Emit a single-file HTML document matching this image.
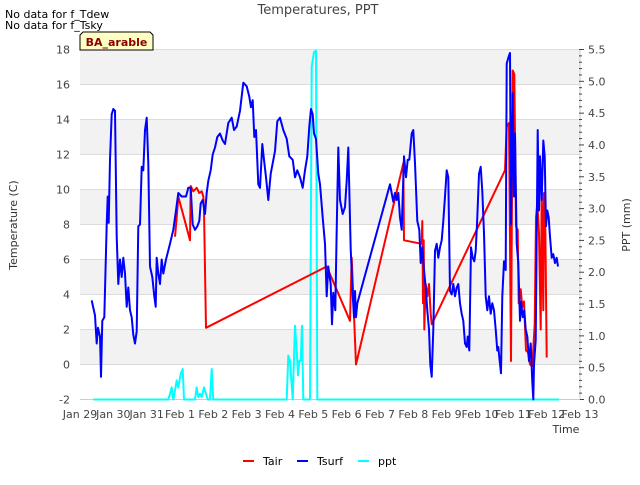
<!DOCTYPE html>
<html><head><meta charset="utf-8"><style>
body{margin:0;background:#fff;font-family:"Liberation Sans","DejaVu Sans",sans-serif}
svg text{font-family:"DejaVu Sans","Liberation Sans",sans-serif}
</style></head><body>
<svg id="chart" width="640" height="480" xmlns="http://www.w3.org/2000/svg">
<text x="5" y="18" font-size="11" fill="#000">No data for f_Tdew</text>
<text x="5" y="29" font-size="11" fill="#000">No data for f_Tsky</text>
<text x="318" y="14" font-size="13" fill="#444" text-anchor="middle">Temperatures, PPT</text>
<g id="bands"></g>
<g id="grid"></g>
<g id="yticks"></g>
<g id="rticks"></g>
<g id="xticks"></g>
<g id="series"></g>
<text transform="translate(17,225) rotate(-90)" font-size="11" fill="#333" text-anchor="middle">Temperature (C)</text>
<text transform="translate(630,225) rotate(-90)" font-size="11" fill="#333" text-anchor="middle">PPT (mm)</text>
<text x="566" y="433" font-size="11" fill="#333" text-anchor="middle">Time</text>
<g>
<path d="M83,32 H150 L153,35 V50 H80 V35 Z" fill="#ffffc4" stroke="#000" stroke-width="1"/>
<text x="116.5" y="46" font-size="11" font-weight="bold" fill="#8b0000" text-anchor="middle">BA_arable</text>
</g>
<g>
<g><line x1="243" y1="461" x2="254" y2="461" stroke="red" stroke-width="2"/><text x="263" y="465" font-size="11" fill="#000">Tair</text></g>
<g><line x1="297" y1="461" x2="308" y2="461" stroke="blue" stroke-width="2"/><text x="317" y="465" font-size="11" fill="#000">Tsurf</text></g>
<g><line x1="358" y1="461" x2="369" y2="461" stroke="cyan" stroke-width="2"/><text x="378" y="465" font-size="11" fill="#000">ppt</text></g>
</g>
</svg>
<script>
const xLabels = ["Jan 29","Jan 30","Jan 31","Feb 1","Feb 2","Feb 3","Feb 4","Feb 5","Feb 6","Feb 7","Feb 8","Feb 9","Feb 10","Feb 11","Feb 12","Feb 13"];
const yTicks = [-2,0,2,4,6,8,10,12,14,16,18];
const rTicks = [0,0.5,1,1.5,2,2.5,3,3.5,4,4.5,5,5.5];
const tsurfT = [0.35,0.45,0.5,0.54,0.6,0.63,0.67,0.73,0.8,0.83,0.86,0.9,0.95,1.0,1.05,1.1,1.15,1.2,1.25,1.3,1.35,1.4,1.45,1.5,1.55,1.6,1.65,1.7,1.75,1.8,1.85,1.9,1.95,2.0,2.05,2.1,2.17,2.23,2.27,2.3,2.35,2.4,2.45,2.5,2.58,2.7,2.8,2.88,2.95,3.05,3.18,3.25,3.32,3.38,3.45,3.52,3.58,3.62,3.68,3.75,3.8,3.85,3.92,3.98,4.05,4.12,4.2,4.28,4.35,4.45,4.55,4.62,4.7,4.8,4.9,5.0,5.08,5.13,5.18,5.23,5.28,5.35,5.4,5.47,5.52,5.58,5.65,5.72,5.78,5.85,5.92,6.0,6.1,6.2,6.28,6.38,6.45,6.52,6.6,6.68,6.75,6.82,6.88,6.93,6.98,7.02,7.08,7.15,7.2,7.28,7.35,7.4,7.45,7.52,7.56,7.6,7.66,7.7,7.75,7.8,7.88,7.95,8.0,8.05,8.12,8.18,8.22,8.25,8.28,8.32,9.3,9.4,9.45,9.5,9.55,9.6,9.65,9.72,9.78,9.83,9.88,9.95,10.0,10.05,10.12,10.18,10.22,10.27,10.32,10.37,10.42,10.47,10.51,10.55,10.6,10.65,10.7,10.75,10.8,10.85,10.9,10.95,11.0,11.05,11.1,11.15,11.2,11.25,11.3,11.35,11.4,11.45,11.5,11.55,11.6,11.63,11.68,11.73,11.78,11.83,11.87,11.92,11.97,12.02,12.07,12.12,12.17,12.22,12.27,12.32,12.37,12.42,12.47,12.52,12.55,12.59,12.63,12.67,12.72,12.77,12.8,12.86,12.9,12.93,12.98,13.02,13.05,13.1,13.15,13.2,13.23,13.28,13.33,13.37,13.42,13.47,13.52,13.57,13.6,13.62,13.67,13.73,13.77,13.8,13.85,13.9,13.94,13.98,14.02,14.06,14.1,14.15,14.2,14.25,14.3,14.34];
const tsurfV = [3.66,2.8,1.2,2.1,1.6,-0.7,2.5,2.7,8.0,9.6,8.1,11.7,14.3,14.6,14.5,7.3,4.6,6.0,5.0,6.1,5.2,3.3,4.4,3.1,2.7,1.7,1.2,1.9,7.9,8.0,11.3,11.1,13.4,14.1,11.5,5.6,5.0,3.9,3.3,6.1,5.2,4.6,6.0,5.2,6.0,6.9,7.7,8.8,9.8,9.6,9.6,10.1,10.1,8.0,7.7,7.9,8.2,9.2,9.4,8.6,9.8,10.5,11.1,12.0,12.4,13.0,13.2,12.8,12.6,13.8,14.1,13.4,13.6,14.5,16.1,15.9,15.3,14.7,15.1,13.0,13.4,10.3,10.1,12.6,11.7,10.7,9.4,10.9,11.5,12.2,13.9,14.1,13.4,12.9,11.9,11.7,10.7,11.1,10.7,10.1,11.1,11.9,13.6,14.6,14.3,13.2,12.9,10.9,10.3,8.4,6.9,3.9,5.6,4.6,2.3,4.1,3.1,7.7,12.4,9.4,8.6,9.0,10.5,12.4,6.6,4.0,2.7,4.2,2.7,3.5,10.3,9.3,9.8,9.4,9.8,8.4,7.7,11.9,10.7,11.7,11.7,13.2,13.4,11.5,8.2,7.7,5.8,6.7,5.4,4.4,3.1,2.0,0.0,-0.7,2.0,6.5,6.9,6.1,6.7,7.1,8.2,9.6,11.1,10.7,4.2,4.0,4.6,3.9,4.4,4.6,3.5,2.9,2.5,1.2,1.0,1.6,0.8,6.7,6.1,5.9,6.5,8.4,10.9,11.3,9.9,7.5,3.9,3.1,3.9,2.9,3.5,3.1,2.0,0.8,1.0,0.2,-0.5,3.9,5.9,5.4,17.2,17.6,17.8,8.0,15.5,9.6,13.2,6.9,5.8,2.5,3.6,2.7,3.1,2.0,1.6,0.2,1.2,-1.0,-2.0,0.0,1.4,13.4,8.8,11.9,9.4,12.8,11.9,7.9,8.8,8.4,7.3,6.1,6.3,5.8,6.1,5.6];
const tairT = [2.85,2.9,2.95,3.3,3.32,3.4,3.5,3.58,3.65,3.7,3.72,3.78,7.4,8.1,8.15,8.28,9.7,9.72,10.25,10.27,10.29,10.31,10.33,10.37,10.42,10.47,10.52,10.55,12.75,12.8,12.87,12.93,12.98,13.03,13.08,13.13,13.16,13.22,13.27,13.32,13.38,13.44,13.5,13.57,13.64,13.68,13.72,13.77,13.82,13.85,13.9,13.92,13.95,14.0];
const tairV = [7.3,8.4,9.6,7.1,10.2,9.9,10.1,9.8,9.9,9.6,8.8,2.1,5.6,2.5,6.1,0.0,11.5,7.1,6.9,8.2,3.5,7.1,2.0,4.6,3.9,4.6,2.9,2.3,11.1,13.6,13.8,0.2,16.8,16.6,7.9,7.7,3.5,4.3,3.3,3.6,0.8,0.7,0.0,-0.1,2.3,8.4,9.2,7.5,2.0,9.8,3.1,9.8,9.6,0.4];
const pptT = [0.4,2.65,2.7,2.75,2.8,2.85,2.9,2.95,3.02,3.08,3.12,3.45,3.5,3.55,3.6,3.65,3.72,3.78,3.83,3.9,3.95,4.0,6.2,6.25,6.3,6.38,6.45,6.5,6.54,6.58,6.62,6.66,6.7,6.9,6.95,7.02,7.08,7.12,14.37];
const pptV = [0,0,0.09,0.19,0,0.14,0.3,0.19,0.4,0.48,0,0,0.19,0.04,0.09,0.04,0.19,0.09,0,0,0.48,0,0,0.69,0.61,0,1.16,0.77,0.38,0.61,0.61,1.16,0,0,5.23,5.46,5.48,0,0];

const L=80,R=580,T0=49.5,B=399.5,NS="http://www.w3.org/2000/svg";
const xs=d=>L+d*(R-L)/15;
const ys=v=>B-(v+2)*(B-T0)/20;
const yr=v=>B-v*(B-T0)/5.5;
function mk(tag,attrs,parent){const e=document.createElementNS(NS,tag);for(const k in attrs)e.setAttribute(k,attrs[k]);document.getElementById(parent).appendChild(e);return e;}
const bg=mk('rect',{x:L,y:T0,width:R-L,height:B-T0,fill:'#fff'},'bands');
for(let v=0;v<18;v+=4){const r=mk('rect',{x:L,y:ys(v+2),width:R-L,height:ys(v)-ys(v+2),fill:'#f2f2f2'},'bands');

}
yTicks.forEach(v=>{const g=mk('line',{x1:L,x2:R,y1:ys(v),y2:ys(v),stroke:'#dcdcdc','stroke-width':1},'grid');


const t=mk('text',{x:L-10,y:ys(v)+4,'font-size':11,fill:'#444','text-anchor':'end'},'yticks');t.textContent=v;

});
mk('line',{x1:R,x2:R,y1:T0,y2:B,stroke:'#ccc'},'rticks');
for(let i=0;i<=55;i++){const v=i/10;const major=i%5===0;mk('line',{x1:R-1,x2:R-1+(major?5:3),y1:yr(v),y2:yr(v),stroke:'#444','stroke-width':1},'rticks');}
rTicks.forEach(v=>{const t=mk('text',{x:R+8,y:yr(v)+4,'font-size':11,fill:'#444'},'rticks');t.textContent=v.toFixed(1);

});
mk('line',{x1:L,x2:R,y1:B,y2:B,stroke:'#ccc'},'xticks');
xLabels.forEach((s,i)=>{const t=mk('text',{x:xs(i),y:418,'font-size':11,fill:'#444','text-anchor':'middle'},'xticks');t.textContent=s;

});
function line(ts,vs,sc,color,name){const p=ts.map((t,i)=>(i?'L':'M')+xs(t).toFixed(1)+','+sc(vs[i]).toFixed(1)).join('');
const e=mk('path',{d:p,fill:'none',stroke:color,'stroke-width':2,'stroke-linejoin':'round'},'series');

}
line(pptT,pptV,yr,'cyan','ppt-line');
line(tairT,tairV,ys,'red','tair-line');
line(tsurfT,tsurfV,ys,'blue','tsurf-line');
</script>
</body></html>
